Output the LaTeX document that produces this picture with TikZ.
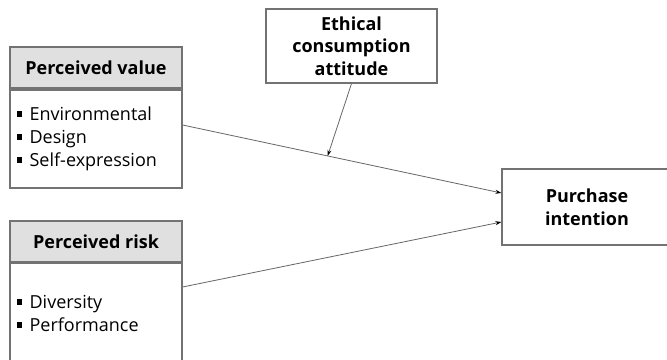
\documentclass[tikz,border=0pt]{standalone}
\usepackage{fontspec}
\setmainfont{Open Sans}
\usetikzlibrary{arrows.meta}

\newcommand{\sqbul}{\rule[0.22em]{0.3em}{0.3em}\hspace{0.4em}}

\begin{document}
\begin{tikzpicture}[x=1pt,y=-1pt]
\useasboundingbox (0,0) rectangle (667,359);
\clip (0,0) rectangle (667,359);

\begin{scope}[every node/.style={draw=black!55,line width=1.2pt,inner sep=0pt,
              font=\fontsize{18}{23}\selectfont}]
    \node[fill=black!12,minimum width=172pt,minimum height=41pt,font=\fontsize{18}{23}\selectfont\bfseries] (vhead) at (96,67.5) {Perceived value};
    \node[minimum width=172pt,minimum height=98pt,text width=158pt,align=left] (vbody) at (96,139)
        {\sqbul Environmental\\ \sqbul Design\\ \sqbul Self-expression};
    \node[fill=black!12,minimum width=172pt,minimum height=41pt,font=\fontsize{18}{23}\selectfont\bfseries] (rhead) at (96,241.5) {Perceived risk};
    \node[minimum width=172pt,minimum height=101pt,text width=158pt,align=left] (rbody) at (96,313.5)
        {\sqbul Diversity\\ \sqbul Performance};
    \node[minimum width=171pt,minimum height=74pt,align=center,font=\fontsize{18}{22.5}\selectfont\bfseries] (ethic) at (351.5,46)
        {Ethical\\ consumption\\ attitude};
    \node[minimum width=170pt,minimum height=76pt,align=center,font=\fontsize{18}{23}\selectfont\bfseries] (purch) at (587,207)
        {Purchase\\ intention};
\end{scope}

\begin{scope}[>={Stealth[black,length=6pt,width=4pt]},
              every path/.style={draw=black!60,line width=0.8pt}]
    \path [->] ([yshift=14pt]vbody.east) -- coordinate[pos=0.455] (meet) ([yshift=14pt]purch.west);
    \path [->] ([yshift=26.5pt]rbody.east) -- ([yshift=-15pt]purch.west);
    \path [->] (ethic.south) -- (meet);
\end{scope}
\end{tikzpicture}
\end{document}
